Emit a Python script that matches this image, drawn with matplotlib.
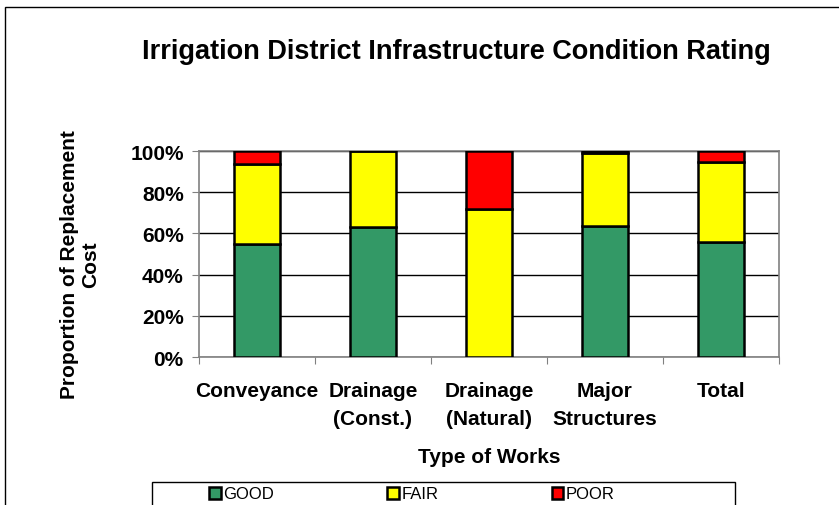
import matplotlib
matplotlib.use('Agg')
import matplotlib.pyplot as plt
from matplotlib.patches import Rectangle
import numpy as np

plt.rcParams['font.family'] = ['Liberation Sans', 'DejaVu Sans']

categories = ['Conveyance', 'Drainage\n(Const.)', 'Drainage\n(Natural)', 'Major\nStructures', 'Total']
good = [55, 63, 0, 63.5, 56]
fair = [38.5, 37, 72, 35.5, 38.5]
poor = [6.5, 0, 28, 1, 5.5]

fig = plt.figure(figsize=(8.39, 5.06), dpi=100)
ax = fig.add_axes([199 / 839, 1 - 358 / 506, 580 / 839, 206 / 506])

# outer chart border (runs off the right and bottom edge)
fig.patches.append(Rectangle((5 / 839, -0.1), 1.0, 1 - 8 / 506 + 0.1, transform=fig.transFigure,
                             fill=False, edgecolor='black', linewidth=1.0))
# legend box, also cut at the bottom
fig.patches.append(Rectangle((152 / 839, -0.1), 583 / 839, 1 - 483 / 506 + 0.1,
                             transform=fig.transFigure, fill=False, edgecolor='black',
                             linewidth=1.0))

x = np.arange(len(categories))
w = 0.4
kw = dict(width=w, edgecolor='black', linewidth=1.8, zorder=3)
ax.bar(x, good, color='#339966', label='GOOD', **kw)
ax.bar(x, fair, bottom=good, color='#FFFF00', label='FAIR', **kw)
ax.bar(x, poor, bottom=np.array(good) + np.array(fair), color='#FF0000', label='POOR', **kw)

ax.set_xlim(-0.5, len(categories) - 0.5)
ax.set_ylim(0, 100)
ax.set_yticks(range(0, 101, 20))
ax.set_yticklabels([f'{v}%' for v in range(0, 101, 20)], fontsize=15, fontweight='bold')
ax.yaxis.grid(True, color='black', linewidth=1.0, zorder=0)
ax.set_axisbelow(True)

ax.set_xticks(np.arange(-0.5, len(categories), 1.0))
ax.set_xticklabels([])
ax.set_xticks(x, minor=True)
ax.set_xticklabels(categories, minor=True, fontsize=15, fontweight='bold', linespacing=1.6)
ax.tick_params(axis='x', which='minor', length=0, pad=17)
ax.tick_params(axis='x', which='major', length=5, color='gray', direction='out')
ax.tick_params(axis='y', length=5, color='gray', direction='out', pad=6)

for s in ax.spines.values():
    s.set_color('#808080')
    s.set_linewidth(1.2)

fig.text(489 / 839, 1 - 458 / 506, 'Type of Works', ha='center', va='center',
         fontsize=15, fontweight='bold')
fig.text(80 / 839, 1 - 265 / 506, 'Proportion of Replacement\nCost', ha='center', va='center',
         rotation=90, fontsize=15, fontweight='bold', linespacing=1.1)

fig.text(456 / 839, 1 - 52 / 506, 'Irrigation District Infrastructure Condition Rating',
         ha='center', va='center', fontsize=19.5, fontweight='bold')

leg = fig.legend(loc='center left', bbox_to_anchor=(209 / 839, 1 - 495 / 506),
                 ncol=3, frameon=False, fontsize=12, columnspacing=6.8,
                 handlelength=0.7, handleheight=0.7, handletextpad=0.15,
                 borderaxespad=0, borderpad=0)

fig.savefig('out.png', dpi=100)
